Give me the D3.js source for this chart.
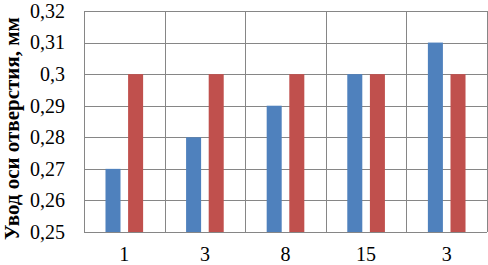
<!DOCTYPE html>
<html>
<head>
<meta charset="utf-8">
<script src="https://cdn.jsdelivr.net/npm/d3@7"></script>
<style>
  body { margin: 0; background: #fff; }
  svg { display: block; }
  text { font-family: "Liberation Serif", "Times New Roman", "DejaVu Serif", serif; }
</style>
</head>
<body>
<svg id="chart" width="488" height="265"></svg>
<script>
// categories (note the repeated "3" at the end)
var categories = ["1", "3", "8", "15", "3"];
var seriesBlue = [0.27, 0.28, 0.29, 0.30, 0.31];
var seriesRed = [0.30, 0.30, 0.30, 0.30, 0.30];
var yTicks = [0.25, 0.26, 0.27, 0.28, 0.29, 0.30, 0.31, 0.32];
var yTickLabels = ["0,25", "0,26", "0,27", "0,28", "0,29", "0,3", "0,31", "0,32"];
var yTitle = "Увод оси отверстия, мм";

var svg = d3.select("#chart"),
    margin = {top: 11, right: 1, bottom: 33, left: 84},
    width = +svg.attr("width") - margin.left - margin.right,
    height = +svg.attr("height") - margin.top - margin.bottom;

var g = svg.append("g").attr("transform", "translate(" + margin.left + "," + margin.top + ")");

var x = d3.scaleBand()
    .domain(d3.range(categories.length))
    .range([0, width])
    .padding(0);

var x1 = d3.scaleBand()
    .domain([0, 1])
    .range([0, x.bandwidth()])
    .paddingInner(0.336)
    .paddingOuter(0.95);

var y = d3.scaleLinear()
    .domain([0.25, 0.32])
    .range([height, 0]);

var gridColor = "#868686";

// horizontal grid
g.append("g").selectAll("line")
    .data(yTicks)
    .enter().append("line")
    .attr("x1", 0)
    .attr("x2", width)
    .attr("y1", function(d) { return Math.round(y(d)) + 0.5; })
    .attr("y2", function(d) { return Math.round(y(d)) + 0.5; })
    .attr("stroke", gridColor);

// vertical grid at category boundaries
var bounds = d3.range(categories.length + 1).map(function(i) { return i * x.step(); });
g.append("g").selectAll("line")
    .data(bounds)
    .enter().append("line")
    .attr("x1", function(d) { return Math.round(d) + 0.5; })
    .attr("x2", function(d) { return Math.round(d) + 0.5; })
    .attr("y1", 0)
    .attr("y2", height)
    .attr("stroke", gridColor);

var series = [
    {values: seriesBlue, color: "#4f81bd"},
    {values: seriesRed, color: "#c0504d"}
];

series.forEach(function(s, si) {
    g.append("g").selectAll("rect")
        .data(s.values)
        .enter().append("rect")
        .attr("x", function(d, i) { return x(i) + x1(si); })
        .attr("width", x1.bandwidth())
        .attr("y", function(d) { return y(d); })
        .attr("height", function(d) { return y(0.25) - y(d); })
        .attr("fill", s.color);
});

var serif = '"Liberation Serif", "Times New Roman", "DejaVu Serif", serif';

// y tick labels
var yAxis = d3.axisLeft(y)
    .tickValues(yTicks)
    .tickSize(0)
    .tickPadding(19)
    .tickFormat(function(d, i) { return yTickLabels[i]; });
var ya = g.append("g").call(yAxis);
ya.attr("font-family", null).attr("font-size", null);
ya.select(".domain").remove();
ya.selectAll("text")
    .style("font-family", serif)
    .style("font-size", "20px")
    .attr("fill", "#000");

// x tick labels
var xAxis = d3.axisBottom(x)
    .tickSize(0)
    .tickPadding(15)
    .tickFormat(function(d) { return categories[d]; });
var xa = g.append("g").attr("transform", "translate(0," + height + ")").call(xAxis);
xa.attr("font-family", null).attr("font-size", null);
xa.select(".domain").remove();
xa.selectAll("text")
    .style("font-family", serif)
    .style("font-size", "20px")
    .attr("fill", "#000");

// y title
svg.append("text")
    .attr("transform", "translate(19,240) rotate(-90)")
    .attr("text-anchor", "start")
    .style("font-family", serif)
    .style("font-weight", "bold")
    .style("font-size", "21px")
    .attr("fill", "#000")
    .text(yTitle);
</script>
</body>
</html>
